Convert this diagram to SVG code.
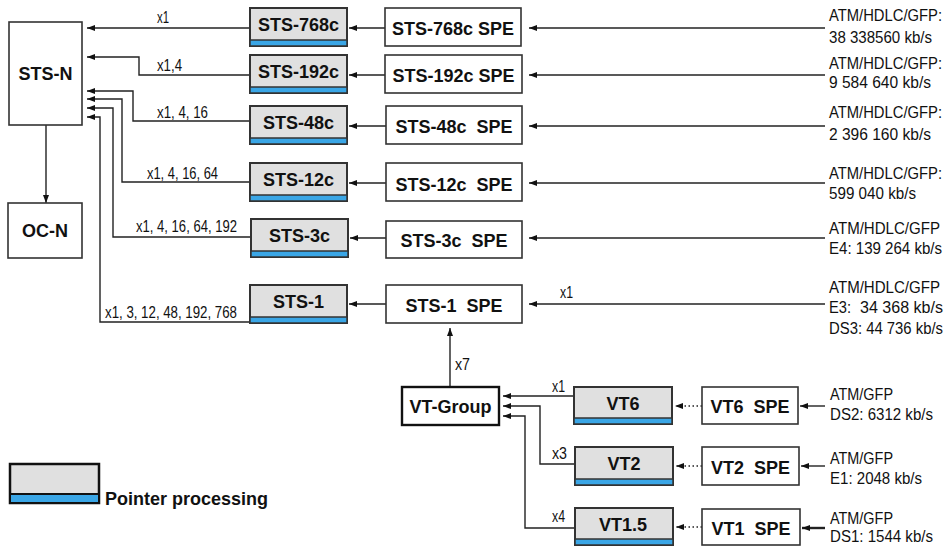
<svg xmlns="http://www.w3.org/2000/svg" width="951" height="546" viewBox="0 0 951 546">
<defs>
<marker id="ah" markerWidth="8" markerHeight="6" refX="8" refY="3" orient="auto" markerUnits="userSpaceOnUse">
<path d="M0,0 L8,3 L0,6 z" fill="#111"/>
</marker>
<style>
.b{font-family:"Liberation Sans",Arial,sans-serif;font-weight:bold;font-size:18px;fill:#111;text-anchor:middle;white-space:pre}
.s{font-family:"Liberation Sans",Arial,sans-serif;font-size:16px;fill:#111}
.r{font-family:"Liberation Sans",Arial,sans-serif;font-size:16px;fill:#111}
.box{fill:#fff;stroke:#333;stroke-width:1.6}
.pb{fill:#e0e0e0;stroke:#333;stroke-width:2}
.bl{fill:#3aa6e6;stroke:#333;stroke-width:1.5}
.c{fill:none;stroke:#222;stroke-width:1.4;marker-end:url(#ah)}
.cd{fill:none;stroke:#222;stroke-width:1.4;stroke-dasharray:1.5 2.5;marker-end:url(#ah)}
</style>
</defs>

<g id="connectors">
<path class="c" d="M250,28 H87"/>
<path class="c" d="M250,75 H139 V57 H87"/>
<path class="c" d="M250,121 H133 V91 H87"/>
<path class="c" d="M250,182 H122 V99 H87"/>
<path class="c" d="M250,237 H113 V108 H87"/>
<path class="c" d="M250,322 H100 V117 H87"/>
<path class="c" d="M46,125 V203"/>
<path class="c" d="M385,28 H349"/>
<path class="c" d="M385,75 H349"/>
<path class="c" d="M386,126 H349"/>
<path class="c" d="M386,183 H349"/>
<path class="c" d="M386,238 H350"/>
<path class="c" d="M386,304 H349"/>
<path class="c" d="M825,28 H529"/>
<path class="c" d="M825,75 H529"/>
<path class="c" d="M825,126 H529"/>
<path class="c" d="M825,183 H529"/>
<path class="c" d="M825,238 H529"/>
<path class="c" d="M825,304 H529"/>
<path class="c" d="M450,387 V328"/>
<path class="c" d="M574,396 H503"/>
<path class="c" d="M575,464 H540 V406 H503"/>
<path class="c" d="M575,528 H525 V416 H503"/>
<path class="cd" d="M702,406 H675"/>
<path class="cd" d="M702,466 H676"/>
<path class="cd" d="M702,527 H676"/>
<path class="c" d="M825,406 H800"/>
<path class="c" d="M825,466 H801"/>
<path class="c" d="M825,528 H802" style="stroke-width:2.4"/>
<text class="s" x="157" y="23" textLength="12" lengthAdjust="spacingAndGlyphs">x1</text>
<text class="s" x="157" y="71" textLength="25" lengthAdjust="spacingAndGlyphs">x1,4</text>
<text class="s" x="157" y="118" textLength="51" lengthAdjust="spacingAndGlyphs">x1, 4, 16</text>
<text class="s" x="147" y="179" textLength="71" lengthAdjust="spacingAndGlyphs">x1, 4, 16, 64</text>
<text class="s" x="136" y="232" textLength="101" lengthAdjust="spacingAndGlyphs">x1, 4, 16, 64, 192</text>
<text class="s" x="105" y="318" textLength="132" lengthAdjust="spacingAndGlyphs">x1, 3, 12, 48, 192, 768</text>
<text class="s" x="560" y="298" textLength="13" lengthAdjust="spacingAndGlyphs">x1</text>
<text class="s" x="455" y="370" textLength="15" lengthAdjust="spacingAndGlyphs">x7</text>
<text class="s" x="552" y="392" textLength="13" lengthAdjust="spacingAndGlyphs">x1</text>
<text class="s" x="552" y="459" textLength="15" lengthAdjust="spacingAndGlyphs">x3</text>
<text class="s" x="552" y="522" textLength="13" lengthAdjust="spacingAndGlyphs">x4</text>
</g>

<g id="sts-n"><rect class="box" x="9" y="22" width="73" height="103"/><text class="b" x="45.5" y="80">STS-N</text></g>
<g id="oc-n"><rect class="box" x="8" y="203" width="74" height="55"/><text class="b" x="45" y="237">OC-N</text></g>

<g id="p-768c"><rect class="pb" x="250" y="8" width="97" height="38"/><rect class="bl" x="250" y="40" width="97" height="6"/><text class="b" x="298.5" y="31">STS-768c</text></g>
<g id="p-192c"><rect class="pb" x="250" y="55" width="97" height="38"/><rect class="bl" x="250" y="87" width="97" height="6"/><text class="b" x="298.5" y="78">STS-192c</text></g>
<g id="p-48c"><rect class="pb" x="250" y="106" width="97" height="38"/><rect class="bl" x="250" y="138" width="97" height="6"/><text class="b" x="298.5" y="129">STS-48c</text></g>
<g id="p-12c"><rect class="pb" x="250" y="163" width="97" height="38"/><rect class="bl" x="250" y="195" width="97" height="6"/><text class="b" x="298.5" y="186">STS-12c</text></g>
<g id="p-3c"><rect class="pb" x="251" y="219" width="97" height="38"/><rect class="bl" x="251" y="251" width="97" height="6"/><text class="b" x="299.5" y="242">STS-3c</text></g>
<g id="p-1"><rect class="pb" x="250" y="285" width="97" height="38"/><rect class="bl" x="250" y="317" width="97" height="6"/><text class="b" x="298.5" y="308">STS-1</text></g>

<g id="spe-768c"><rect class="box" x="385" y="8" width="136" height="38"/><text class="b" x="453" y="35">STS-768c SPE</text></g>
<g id="spe-192c"><rect class="box" x="385" y="55" width="137" height="38"/><text class="b" x="453.5" y="82">STS-192c SPE</text></g>
<g id="spe-48c"><rect class="box" x="386" y="106" width="136" height="38"/><text class="b" x="454" y="133">STS-48c  SPE</text></g>
<g id="spe-12c"><rect class="box" x="386" y="163" width="136" height="38"/><text class="b" x="454" y="191">STS-12c  SPE</text></g>
<g id="spe-3c"><rect class="box" x="386" y="221" width="136" height="37"/><text class="b" x="454" y="247">STS-3c  SPE</text></g>
<g id="spe-1"><rect class="box" x="386" y="285" width="136" height="38"/><text class="b" x="454" y="312">STS-1  SPE</text></g>

<g id="vt-group"><rect class="box" x="402" y="387" width="97" height="38" style="stroke:#111;stroke-width:2.4"/><text class="b" x="450.5" y="413">VT-Group</text></g>

<g id="p-vt6"><rect class="pb" x="574" y="387" width="98" height="37"/><rect class="bl" x="574" y="418" width="98" height="6"/><text class="b" x="623" y="410">VT6</text></g>
<g id="p-vt2"><rect class="pb" x="575" y="447" width="98" height="38"/><rect class="bl" x="575" y="479" width="98" height="6"/><text class="b" x="624" y="470">VT2</text></g>
<g id="p-vt15"><rect class="pb" x="575" y="508" width="98" height="37"/><rect class="bl" x="575" y="539" width="98" height="6"/><text class="b" x="623" y="531">VT1.5</text></g>

<g id="spe-vt6"><rect class="box" x="702" y="387" width="96" height="37"/><text class="b" x="750" y="413">VT6  SPE</text></g>
<g id="spe-vt2"><rect class="box" x="702" y="447" width="97" height="38"/><text class="b" x="750.5" y="474">VT2  SPE</text></g>
<g id="spe-vt1"><rect class="box" x="702" y="509" width="98" height="36"/><text class="b" x="751" y="535">VT1  SPE</text></g>

<g id="rates">
<text class="r" x="829" y="21" textLength="113" lengthAdjust="spacingAndGlyphs">ATM/HDLC/GFP:</text>
<text class="r" x="829" y="43" textLength="103" lengthAdjust="spacingAndGlyphs">38 338560 kb/s</text>
<text class="r" x="829" y="69" textLength="113" lengthAdjust="spacingAndGlyphs">ATM/HDLC/GFP:</text>
<text class="r" x="829" y="88" textLength="102" lengthAdjust="spacingAndGlyphs">9 584 640 kb/s</text>
<text class="r" x="829" y="118" textLength="113" lengthAdjust="spacingAndGlyphs">ATM/HDLC/GFP:</text>
<text class="r" x="829" y="140" textLength="102" lengthAdjust="spacingAndGlyphs">2 396 160 kb/s</text>
<text class="r" x="829" y="179" textLength="113" lengthAdjust="spacingAndGlyphs">ATM/HDLC/GFP:</text>
<text class="r" x="829" y="199" textLength="87" lengthAdjust="spacingAndGlyphs">599 040 kb/s</text>
<text class="r" x="829" y="234" textLength="111" lengthAdjust="spacingAndGlyphs">ATM/HDLC/GFP</text>
<text class="r" x="829" y="254" textLength="113" lengthAdjust="spacingAndGlyphs">E4: 139 264 kb/s</text>
<text class="r" x="829" y="293" textLength="111" lengthAdjust="spacingAndGlyphs">ATM/HDLC/GFP</text>
<text class="r" x="829" y="313" textLength="22" lengthAdjust="spacingAndGlyphs">E3:</text>
<text class="r" x="860" y="313" textLength="83" lengthAdjust="spacingAndGlyphs">34 368 kb/s</text>
<text class="r" x="829" y="334" textLength="114" lengthAdjust="spacingAndGlyphs">DS3: 44 736 kb/s</text>
<text class="r" x="830" y="400" textLength="63" lengthAdjust="spacingAndGlyphs">ATM/GFP</text>
<text class="r" x="830" y="420" textLength="103" lengthAdjust="spacingAndGlyphs">DS2: 6312 kb/s</text>
<text class="r" x="830" y="464" textLength="63" lengthAdjust="spacingAndGlyphs">ATM/GFP</text>
<text class="r" x="830" y="484" textLength="92" lengthAdjust="spacingAndGlyphs">E1: 2048 kb/s</text>
<text class="r" x="830" y="524" textLength="63" lengthAdjust="spacingAndGlyphs">ATM/GFP</text>
<text class="r" x="830" y="542" textLength="103" lengthAdjust="spacingAndGlyphs">DS1: 1544 kb/s</text>
</g>

<g id="legend"><rect class="pb" x="10" y="464" width="89" height="39" style="stroke:#111;stroke-width:2.5"/><rect class="bl" x="10" y="494" width="89" height="9" style="stroke:#111;stroke-width:2"/><text class="b" x="105" y="505" style="text-anchor:start">Pointer processing</text></g>
</svg>
